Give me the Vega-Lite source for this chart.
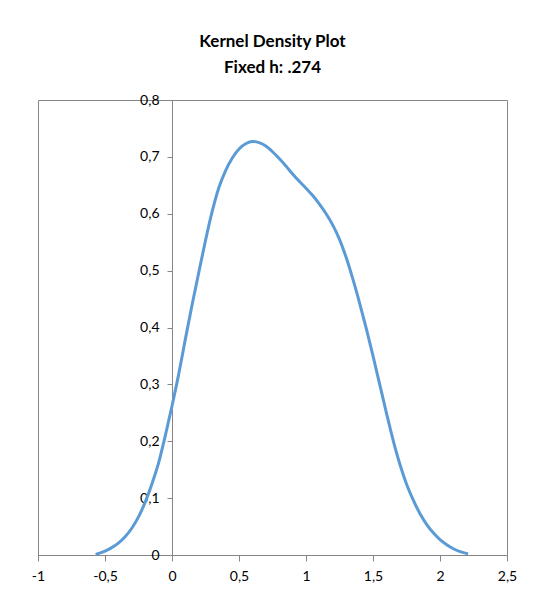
{
  "$schema": "https://vega.github.io/schema/vega-lite/v6.json",
  "width": 469,
  "height": 455,
  "autosize": {"type": "none"},
  "padding": {"left": 38, "top": 100, "right": 27, "bottom": 47},
  "background": "white",
  "title": {
    "text": ["Kernel Density Plot", "Fixed h: .274"],
    "font": "Lato",
    "fontSize": 17,
    "fontWeight": "bold",
    "color": "#000000",
    "anchor": "middle",
    "lineHeight": 26,
    "offset": 16
  },
  "config": {
    "view": {"stroke": "#868686", "strokeWidth": 1},
    "axis": {
      "labelFont": "Lato",
      "labelFontSize": 14,
      "labelColor": "#000000",
      "domainColor": "#868686",
      "tickColor": "#868686",
      "grid": false,
      "title": null
    }
  },
  "data": {
    "values": [
      {"x": -0.57, "density": 0.001},
      {"x": -0.5, "density": 0.007},
      {"x": -0.45, "density": 0.013},
      {"x": -0.4, "density": 0.021},
      {"x": -0.35, "density": 0.032},
      {"x": -0.3, "density": 0.047},
      {"x": -0.25, "density": 0.067},
      {"x": -0.2, "density": 0.093},
      {"x": -0.15, "density": 0.125},
      {"x": -0.1, "density": 0.162},
      {"x": -0.05, "density": 0.21},
      {"x": 0, "density": 0.262},
      {"x": 0.05, "density": 0.318},
      {"x": 0.1, "density": 0.38},
      {"x": 0.15, "density": 0.44},
      {"x": 0.2, "density": 0.497},
      {"x": 0.25, "density": 0.553},
      {"x": 0.3, "density": 0.604},
      {"x": 0.35, "density": 0.646},
      {"x": 0.4, "density": 0.676},
      {"x": 0.45, "density": 0.698},
      {"x": 0.5, "density": 0.714},
      {"x": 0.55, "density": 0.723},
      {"x": 0.6, "density": 0.727},
      {"x": 0.65, "density": 0.725},
      {"x": 0.7, "density": 0.719},
      {"x": 0.75, "density": 0.709},
      {"x": 0.8, "density": 0.697},
      {"x": 0.85, "density": 0.684},
      {"x": 0.9, "density": 0.67},
      {"x": 0.95, "density": 0.657},
      {"x": 1.0, "density": 0.645},
      {"x": 1.05, "density": 0.632},
      {"x": 1.1, "density": 0.617},
      {"x": 1.15, "density": 0.6},
      {"x": 1.2, "density": 0.58},
      {"x": 1.25, "density": 0.555},
      {"x": 1.3, "density": 0.523},
      {"x": 1.35, "density": 0.485},
      {"x": 1.4, "density": 0.443},
      {"x": 1.45, "density": 0.398},
      {"x": 1.5, "density": 0.35},
      {"x": 1.55, "density": 0.3},
      {"x": 1.6, "density": 0.25},
      {"x": 1.65, "density": 0.202},
      {"x": 1.7, "density": 0.16},
      {"x": 1.75, "density": 0.125},
      {"x": 1.8, "density": 0.097},
      {"x": 1.85, "density": 0.073},
      {"x": 1.9, "density": 0.054},
      {"x": 1.95, "density": 0.039},
      {"x": 2.0, "density": 0.027},
      {"x": 2.05, "density": 0.018},
      {"x": 2.1, "density": 0.011},
      {"x": 2.15, "density": 0.006},
      {"x": 2.21, "density": 0.002}
    ]
  },
  "mark": {"type": "line", "color": "#5B9BD5", "strokeWidth": 3, "interpolate": "monotone"},
  "encoding": {
    "x": {
      "field": "x",
      "type": "quantitative",
      "scale": {"domain": [-1, 2.5], "nice": false, "zero": false},
      "axis": {
        "values": [-1, -0.5, 0, 0.5, 1, 1.5, 2, 2.5],
        "labelExpr": "replace(toString(datum.value), '.', ',')",
        "tickSize": 6,
        "labelPadding": 8,
        "labelFlush": false
      }
    },
    "y": {
      "field": "density",
      "type": "quantitative",
      "scale": {"domain": [0, 0.8], "nice": false},
      "axis": {
        "values": [0, 0.1, 0.2, 0.3, 0.4, 0.5, 0.6, 0.7, 0.8],
        "labelExpr": "replace(toString(datum.value), '.', ',')",
        "offset": -134,
        "tickSize": 5,
        "labelPadding": 8,
        "labelFlush": false
      }
    }
  }
}
